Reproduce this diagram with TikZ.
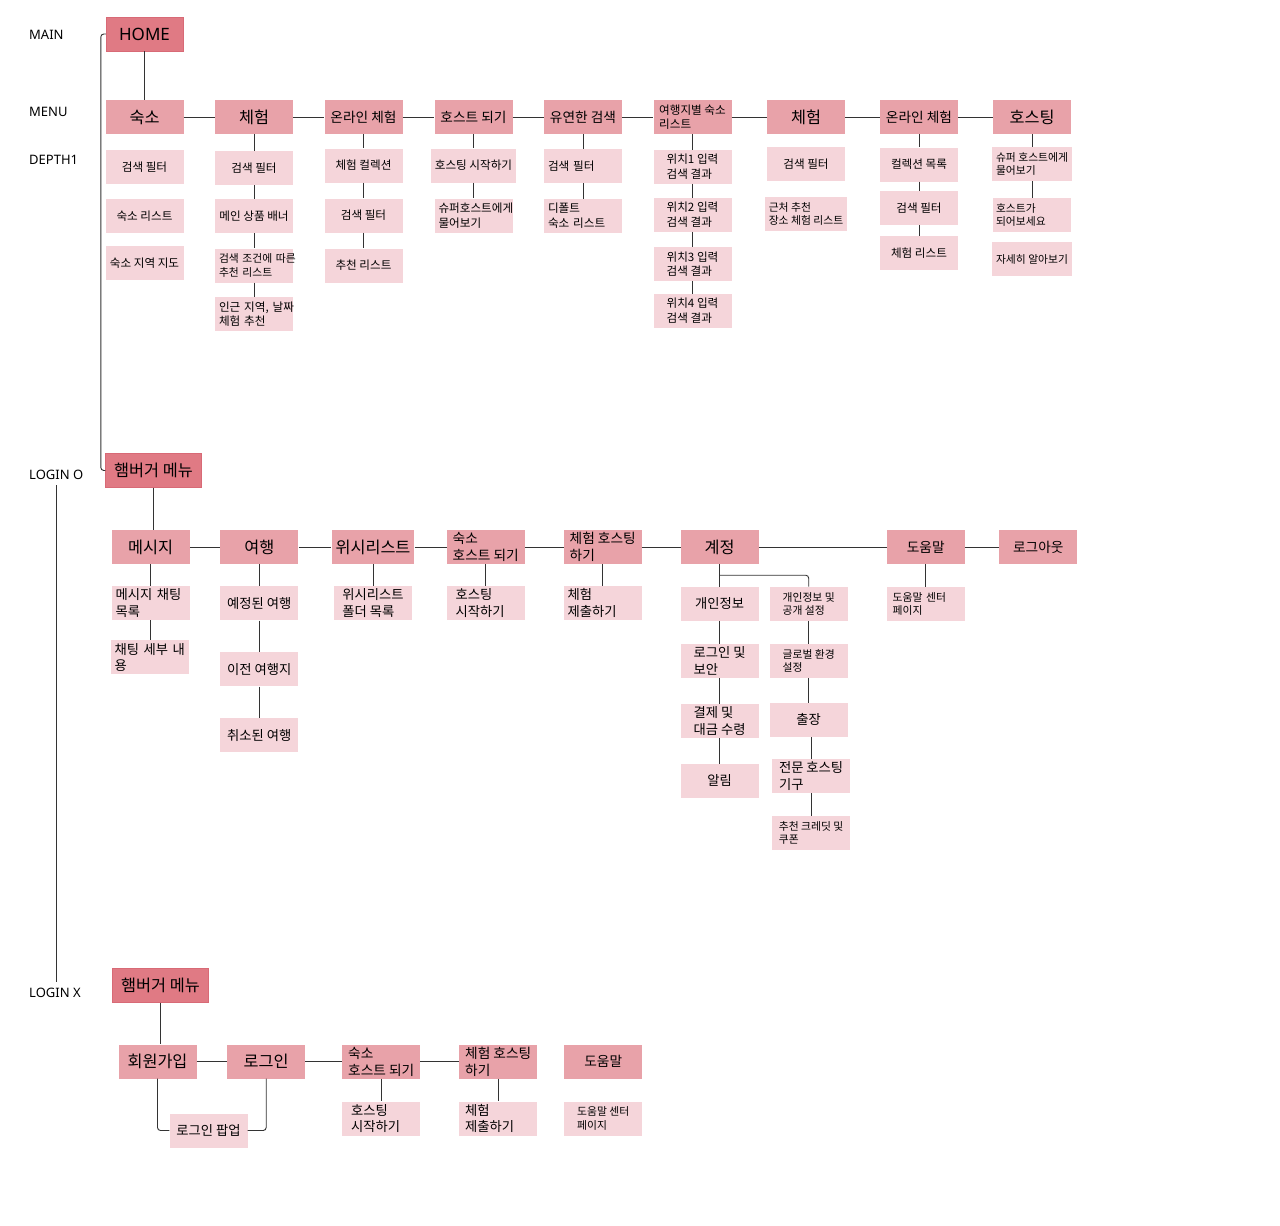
\documentclass[tikz,border=0pt]{standalone}
\usepackage{fontspec}
\setmainfont{Noto Sans CJK KR}
\newfontfamily\tierfont{Noto Sans}
\usepackage{tikz}
\definecolor{homepink}{HTML}{E07A84}
\definecolor{homeedge}{HTML}{D86A76}
\definecolor{menupink}{HTML}{E8A2A9}
\definecolor{subpink}{HTML}{F5D5DA}
\newcommand{\szhome}{\tierfont\fontsize{17}{20}\selectfont}
\newcommand{\szl}{\fontsize{16.3}{19}\selectfont}
\newcommand{\szm}{\fontsize{13.7}{17}\selectfont}
\newcommand{\szs}{\fontsize{13.3}{16.5}\selectfont}
\newcommand{\szxs}{\fontsize{11.6}{14.5}\selectfont}
\newcommand{\szt}{\fontsize{10.8}{13.5}\selectfont}
\tikzstyle{tier} =
[anchor=west, inner xsep=0pt, inner ysep=6pt, font=\tierfont\fontsize{13}{15}\selectfont]
\tikzstyle{home} =
[rectangle, minimum width = 77pt, minimum height = 34pt, inner xsep=4pt,
inner ysep=1pt, text centered, draw=homeedge, fill=homepink, font=\szl]
\tikzstyle{menu} =
[rectangle, minimum width = 78pt, minimum height = 34pt, inner xsep=4pt,
inner ysep=1pt, align=left, fill=menupink, font=\szl]
\tikzstyle{sub} =
[rectangle, minimum width = 78pt, minimum height = 34pt, inner xsep=4pt,
inner ysep=1pt, align=left, fill=subpink, font=\szxs]
\tikzstyle{lsub} = [sub, text width = 70pt]
\tikzstyle{line} = [draw, black!80, line width=0.9pt]

\begin{document}
\begin{tikzpicture}[x=1pt, y=1pt, node distance = 49pt]
  \useasboundingbox (0,0) rectangle (1280,-1226);
  % level labels
  \node [tier] (lmain) at (29,-35) {MAIN};
  \node [tier] (lmenu) at (29,-112) {MENU};
  \node [tier] (ldepth) at (29,-160) {DEPTH1};
  \node [tier] (lin) at (29,-474.5) {LOGIN O};
  \node [tier] (lout) at (29,-993) {LOGIN X};
  %
  % main and menu nodes
  \node [home, font=\szhome] (home) at (144.5,-34) {HOME};
  \node [menu, below of=home, node distance=83pt] (stay) {숙소};
  \node [menu, right of=stay, node distance=109.5pt] (exp) {체험};
  \node [menu, right of=exp, node distance=109.5pt, font=\szm] (online)
   {온라인 체험};
  \node [menu, right of=online, node distance=110pt, font=\szm] (host)
   {호스트 되기};
  \node [menu, right of=host, node distance=109.5pt, font=\szm] (flex)
   {유연한 검색};
  \node [menu, right of=flex, node distance=109.5pt, font=\szxs] (region)
   {여행지별 숙소\\리스트};
  \node [menu, right of=region, node distance=113.5pt] (exptwo) {체험};
  \node [menu, right of=exptwo, node distance=113pt, font=\szm] (onlinetwo)
   {온라인 체험};
  \node [menu, right of=onlinetwo, node distance=113pt] (hosting) {호스팅};
  % menu edges
  \path [line] (home) -- (stay);
  \path [line] (stay) -- (exp);
  \path [line] (exp) -- (online);
  \path [line] (online) -- (host);
  \path [line] (host) -- (flex);
  \path [line] (flex) -- (region);
  \path [line] (region) -- (exptwo);
  \path [line] (exptwo) -- (onlinetwo);
  \path [line] (onlinetwo) -- (hosting);
  %
  % depth1 nodes
  \node [sub, below of=stay, node distance=50pt] (staysearch) {검색 필터};
  \node [sub, below of=staysearch] (staylist) {숙소 리스트};
  \node [sub, below of=staylist, node distance=47pt] (staymap) {숙소 지역 지도};
  \node [sub, below of=exp, node distance=51pt] (expsearch) {검색 필터};
  \node [sub, below of=expsearch, node distance=48pt] (expbanner)
   {메인 상품 배너};
  \node [lsub, below of=expbanner, node distance=49.5pt, font=\szt] (expreco)
   {\mbox{검색 조건에 따른}\\추천 리스트};
  \node [lsub, below of=expreco, node distance=48.5pt] (expnear)
   {\mbox{인근 지역, 날짜}\\체험 추천};
  \node [sub, below of=online, node distance=48.5pt] (onlinecol) {체험 컬렉션};
  \node [sub, below of=onlinecol, node distance=50pt] (onlinesearch)
   {검색 필터};
  \node [sub, below of=onlinesearch, node distance=50pt] (onlinereco)
   {추천 리스트};
  \node [sub, below of=host, node distance=48.5pt] (hoststart)
   {호스팅 시작하기};
  \node [lsub, below of=hoststart, node distance=50pt] (hostask)
   {슈퍼호스트에게\\물어보기};
  \node [lsub, below of=flex, node distance=49pt] (flexsearch) {검색 필터};
  \node [lsub, below of=flexsearch, node distance=49.7pt] (flexlist)
   {디폴트\\숙소 리스트};
  \node [sub, below of=region, node distance=49.7pt] (posone)
   {위치1 입력\\검색 결과};
  \node [sub, below of=posone, node distance=48pt] (postwo)
   {위치2 입력\\검색 결과};
  \node [sub, below of=postwo, node distance=49.5pt] (posthree)
   {위치3 입력\\검색 결과};
  \node [sub, below of=posthree, node distance=46.5pt] (posfour)
   {위치4 입력\\검색 결과};
  \node [sub, below of=exptwo, node distance=47pt] (exptwosearch) {검색 필터};
  \node [sub, below of=exptwosearch, node distance=50pt, font=\szt]
   (exptwonear) {근처 추천\\장소 체험 리스트};
  \node [sub, below of=onlinetwo, node distance=47.5pt] (onlinetwocol)
   {컬렉션 목록};
  \node [sub, below of=onlinetwocol, node distance=43.5pt] (onlinetwosearch)
   {검색 필터};
  \node [sub, below of=onlinetwosearch, node distance=45pt] (onlinetwolist)
   {체험 리스트};
  \node [sub, below of=hosting, node distance=47pt, font=\szt] (hostingask)
   {슈퍼 호스트에게\\물어보기};
  \node [lsub, below of=hostingask, node distance=51pt, font=\szt,
   inner xsep=3pt, text width=72pt] (hostingbe) {호스트가\\되어보세요};
  \node [sub, below of=hostingbe, node distance=44pt, font=\szt] (hostingmore)
   {자세히 알아보기};
  % depth1 edges
  \path [line] (exp) -- (expsearch);
  \path [line] (expsearch) -- (expbanner);
  \path [line] (expbanner) -- (expreco);
  \path [line] (expreco) -- (expnear);
  \path [line] (online) -- (onlinecol);
  \path [line] (onlinecol) -- (onlinesearch);
  \path [line] (onlinesearch) -- (onlinereco);
  \path [line] (host) -- (hoststart);
  \path [line] (hoststart) -- (hostask);
  \path [line] (flex) -- (flexsearch);
  \path [line] (flexsearch) -- (flexlist);
  \path [line] (region) -- (posone);
  \path [line] (posone) -- (postwo);
  \path [line] (postwo) -- (posthree);
  \path [line] (posthree) -- (posfour);
  \path [line] (onlinetwo) -- (onlinetwocol);
  \path [line] (onlinetwocol) -- (onlinetwosearch);
  \path [line] (onlinetwosearch) -- (onlinetwolist);
  \path [line] (hosting) -- (hostingask);
  \path [line] (hostingask) -- (hostingbe);
  %
  % login o nodes
  \node [home, minimum width=96pt] (hamin) at (153.5,-470.5) {햄버거 메뉴};
  \node [menu, below of=hamin, node distance=76.5pt, xshift=-2.8pt] (msg)
   {메시지};
  \node [menu, right of=msg, node distance=108.6pt] (trip) {여행};
  \node [menu, right of=trip, node distance=113.7pt] (wish) {위시리스트};
  \node [menu, right of=wish, node distance=112.7pt, font=\szm] (stayhost)
   {숙소\\호스트 되기};
  \node [menu, right of=stayhost, node distance=117pt, font=\szm] (exphost)
   {체험 호스팅\\하기};
  \node [menu, right of=exphost, node distance=117pt] (acct) {계정};
  \node [menu, right of=acct, node distance=206pt, font=\szm] (help) {도움말};
  \node [menu, right of=help, node distance=112.6pt, font=\szm] (logout)
   {로그아웃};
  \node [lsub, below of=msg, node distance=56pt, font=\szs] (msglist)
   {\mbox{메시지 채팅}\\목록};
  \node [lsub, below of=msglist, node distance=54.4pt, xshift=-1pt, font=\szs]
   (msgdetail) {\mbox{채팅 세부 내}\\용};
  \node [sub, below of=trip, node distance=56.3pt, font=\szs] (tripplan)
   {예정된 여행};
  \node [sub, below of=tripplan, node distance=66pt, font=\szs] (trippast)
   {이전 여행지};
  \node [sub, below of=trippast, node distance=66pt, font=\szs] (tripcancel)
   {취소된 여행};
  \node [sub, below of=wish, node distance=56pt, font=\szs] (wishfolder)
   {위시리스트\\폴더 목록};
  \node [lsub, below of=stayhost, node distance=56pt, font=\szs,
   inner xsep=9pt, text width=60pt] (stayhoststart) {호스팅\\시작하기};
  \node [lsub, below of=exphost, node distance=56pt, font=\szs]
   (exphostsubmit) {체험\\제출하기};
  \node [sub, below of=acct, node distance=56.7pt, font=\szs] (info)
   {개인정보};
  \node [sub, below of=info, node distance=57.1pt, font=\szs] (security)
   {로그인 및\\보안};
  \node [sub, below of=security, node distance=60.4pt, font=\szs] (payment)
   {결제 및\\대금 수령};
  \node [sub, below of=payment, node distance=59.6pt, font=\szs] (notice)
   {알림};
  \node [sub, right of=info, node distance=89pt, font=\szt] (privacy)
   {개인정보 및\\공개 설정};
  \node [sub, below of=privacy, node distance=57.1pt, font=\szt] (global)
   {글로벌 환경\\설정};
  \node [sub, below of=global, node distance=58.9pt, font=\szs] (travel)
   {출장};
  \node [sub, below of=travel, node distance=56.5pt, xshift=2.4pt, font=\szs]
   (protool) {전문 호스팅\\기구};
  \node [sub, below of=protool, node distance=56.6pt, font=\szt] (credit)
   {추천 크레딧 및\\쿠폰};
  \node [lsub, below of=help, node distance=57pt, font=\szt, inner xsep=6pt,
   text width=66pt] (helpcenter) {도움말 센터\\페이지};
  % login o edges
  \path [line, rounded corners=3pt] (home.west) -- ++(-5pt,0) |- (hamin.west);
  \path [line] (hamin) -- (hamin |- msg.north);
  \path [line] (msg) -- (trip);
  \path [line] (trip) -- (wish);
  \path [line] (wish) -- (stayhost);
  \path [line] (stayhost) -- (exphost);
  \path [line] (exphost) -- (acct);
  \path [line] (acct) -- (help);
  \path [line] (help) -- (logout);
  \path [line] (msg) -- (msglist);
  \path [line] (msglist) -- (msglist |- msgdetail.north);
  \path [line] (trip) -- (tripplan);
  \path [line] (tripplan) -- (trippast);
  \path [line] (trippast) -- (tripcancel);
  \path [line] (wish) -- (wishfolder);
  \path [line] (stayhost) -- (stayhoststart);
  \path [line] (exphost) -- (exphostsubmit);
  \path [line] (acct) -- (info);
  \path [line, rounded corners=3pt] ([yshift=-11pt]acct.south) -| (privacy.north);
  \path [line] (info) -- (security);
  \path [line] (security) -- (payment);
  \path [line] (payment) -- (notice);
  \path [line] (privacy) -- (global);
  \path [line] (global) -- (travel);
  \path [line] (protool.north) -- (protool.north |- travel.south);
  \path [line] (protool) -- (credit);
  \path [line] (help) -- (helpcenter);
  %
  % login x nodes
  \node [home, minimum width=96pt] (hamout) at (160.5,-985.5) {햄버거 메뉴};
  \node [menu, below of=hamout, node distance=76pt, xshift=-3pt] (signup)
   {회원가입};
  \node [menu, right of=signup, node distance=108.7pt] (login) {로그인};
  \node [menu, right of=login, node distance=115pt, font=\szm] (stayhosttwo)
   {숙소\\호스트 되기};
  \node [menu, right of=stayhosttwo, node distance=117pt, font=\szm]
   (exphosttwo) {체험 호스팅\\하기};
  \node [menu, right of=exphosttwo, node distance=105pt, font=\szm] (helptwo)
   {도움말};
  \node [sub, below of=signup, node distance=69pt, xshift=51pt, font=\szs]
   (popup) {로그인 팝업};
  \node [lsub, below of=stayhosttwo, node distance=57pt, font=\szs,
   inner xsep=9pt, text width=60pt] (stayhosttwostart) {호스팅\\시작하기};
  \node [lsub, below of=exphosttwo, node distance=57pt, font=\szs,
   inner xsep=6pt, text width=66pt] (exphosttwosubmit) {체험\\제출하기};
  \node [sub, below of=helptwo, node distance=57pt, font=\szt] (helptwocenter)
   {도움말 센터\\페이지};
  % login x edges
  \path [line] (lin.south) -- (lin.south |- lout.north);
  \path [line] (hamout) -- (hamout |- signup.north);
  \path [line] (signup) -- (login);
  \path [line] (login) -- (stayhosttwo);
  \path [line] (stayhosttwo) -- (exphosttwo);
  \path [line, rounded corners=3pt] (signup) |- (popup);
  \path [line, rounded corners=3pt] (login) |- (popup);
  \path [line] (stayhosttwo) -- (stayhosttwostart);
  \path [line] (exphosttwo) -- (exphosttwosubmit);%| vline
\end{tikzpicture}
\end{document}
